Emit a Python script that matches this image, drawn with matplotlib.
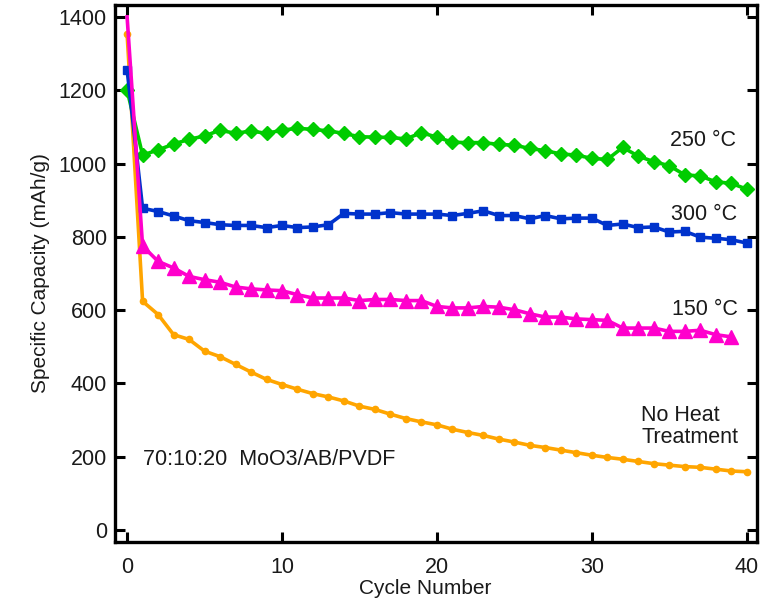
import matplotlib
matplotlib.use("Agg")
import matplotlib.pyplot as plt

plt.rcParams['font.family'] = ['Liberation Sans', 'DejaVu Sans']

cycles = list(range(0, 41))
cycles_150 = list(range(0, 40))

cap_250 = [1200, 1023, 1037, 1053, 1066, 1075, 1091, 1082, 1089, 1082, 1091, 1096, 1093, 1089,
           1082, 1073, 1072, 1071, 1067, 1084, 1072, 1058, 1057, 1057, 1052, 1050, 1041, 1035,
           1026, 1023, 1014, 1011, 1044, 1020, 1005, 994, 969, 966, 950, 946, 930]
cap_300 = [1256, 878, 869, 857, 844, 839, 833, 831, 831, 825, 831, 825, 827, 833,
           864, 862, 862, 866, 862, 862, 862, 858, 864, 871, 858, 858, 849, 858,
           849, 851, 851, 831, 835, 825, 827, 813, 815, 799, 796, 792, 783]
cap_150 = [1400, 775, 733, 715, 692, 683, 676, 663, 658, 655, 653, 642, 633, 633,
           633, 626, 629, 629, 626, 626, 610, 606, 606, 610, 608, 601, 590, 581,
           581, 576, 574, 572, 551, 551, 551, 542, 542, 545, 533, 527]
cap_none = [1354, 624, 588, 533, 520, 488, 473, 452, 431, 411, 397, 384, 372, 363,
            352, 338, 329, 316, 304, 295, 287, 275, 266, 258, 248, 240, 231, 225,
            218, 211, 204, 198, 193, 187, 181, 177, 173, 171, 166, 161, 159]

x_ticks = [0, 10, 20, 30, 40]
y_ticks = [0, 200, 400, 600, 800, 1000, 1200, 1400]

FS = 15.5
FL = 15
TXT = '#1a1a1a'

fig = plt.figure(figsize=(7.73, 6.01), dpi=100)
ax = fig.add_axes([0.149, 0.098, 0.830, 0.894])

ax.plot(cycles, cap_none, color='#ffa500', lw=2.6, marker='o', ms=4.5, zorder=2)
ax.plot(cycles, cap_250, color='#00cc00', lw=2.6, marker='D', ms=7.5, zorder=3)
ax.plot(cycles, cap_300, color='#0033cc', lw=2.6, marker='s', ms=5.5, zorder=4)
ax.plot(cycles_150, cap_150, color='#ff00cc', lw=2.6, marker='^', ms=9.5, zorder=5,
        markevery=list(range(1, len(cycles_150))))

ax.set_xlim(-0.77, 40.65)
ax.set_ylim(-33, 1433)
ax.set_xticks(x_ticks)
ax.set_yticks(y_ticks)
ax.tick_params(direction='in', length=7, width=2.2, labelsize=FS,
               top=True, right=True, pad=6, labelcolor=TXT)
ax.tick_params(axis='x', pad=11)
for s in ax.spines.values():
    s.set_linewidth(2.4)

ax.set_xlabel('Cycle Number', fontsize=FL, color=TXT)
ax.xaxis.set_label_coords(0.483, -0.068)
ax.set_ylabel('Specific Capacity (mAh/g)', fontsize=FL, labelpad=6, color=TXT)

ax.text(35.03, 1064, '250 °C', fontsize=FS, ha='left', va='center', color=TXT)
ax.text(35.1, 860, '300 °C', fontsize=FS, ha='left', va='center', color=TXT)
ax.text(35.2, 601, '150 °C', fontsize=FS, ha='left', va='center', color=TXT)
ax.text(33.2, 282, 'No Heat\nTreatment', fontsize=FS, ha='left', va='center',
        linespacing=1.1, color=TXT)
ax.text(1.05, 193, '70:10:20  MoO3/AB/PVDF', fontsize=FS, ha='left', va='center', color=TXT)

fig.savefig('out.png', dpi=100)
